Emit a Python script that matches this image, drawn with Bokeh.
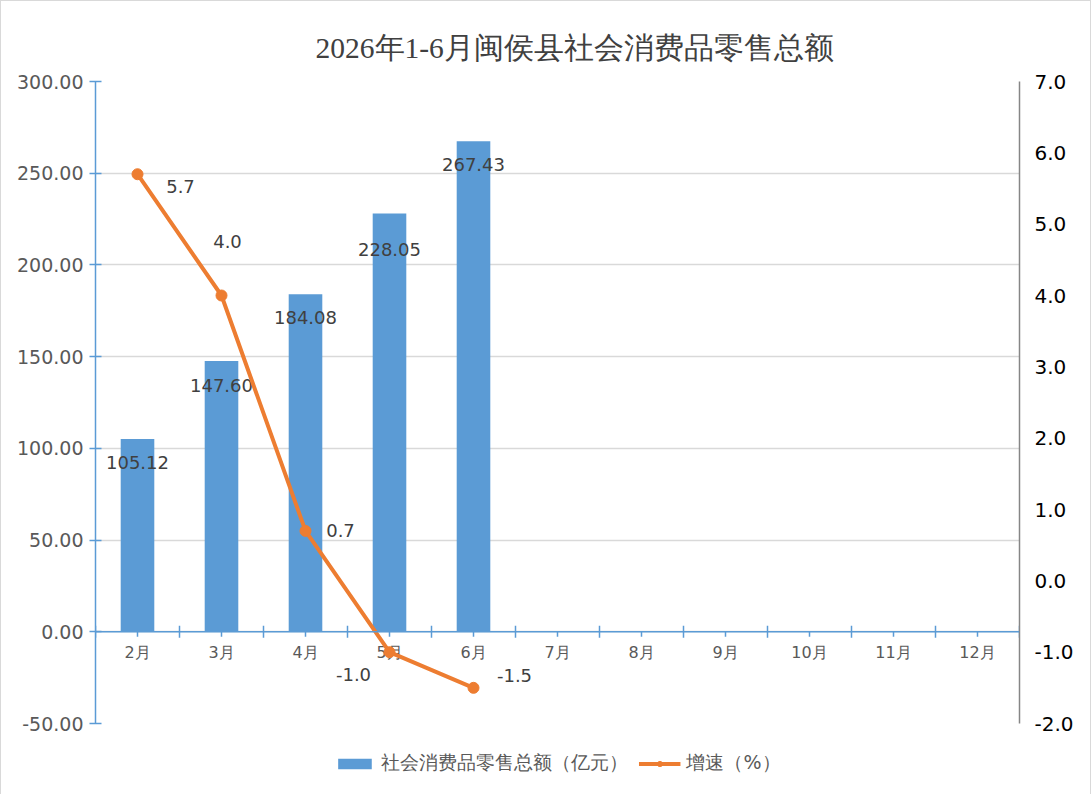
from bokeh.plotting import figure
from bokeh.models import (Range1d, LinearAxis, FixedTicker, NumeralTickFormatter,
                          Legend, LegendItem, ColumnDataSource, Grid, Span)
from bokeh.core.properties import value
from bokeh.embed import file_html
from bokeh.resources import INLINE
import math

# ---------------- data ----------------
categories = ["2月", "3月", "4月", "5月", "6月", "7月", "8月", "9月", "10月", "11月", "12月"]
sales = [105.12, 147.60, 184.08, 228.05, 267.43]          # 社会消费品零售总额（亿元）
growth = [5.7, 4.0, 0.7, -1.0, -1.5]                      # 增速（%）
sales_labels = ["105.12", "147.60", "184.08", "228.05", "267.43"]
growth_labels = ["5.7", "4.0", "0.7", "-1.0", "-1.5"]
left_ticks = [-50, 0, 50, 100, 150, 200, 250, 300]
right_ticks = [-2, -1, 0, 1, 2, 3, 4, 5, 6, 7]

title_text = "2026年1-6月闽侯县社会消费品零售总额"
bar_name = "社会消费品零售总额（亿元）"
line_name = "增速（%）"

# label offsets (styling, screen px; positive y = down)
bar_label_dy = [24, 24, 23, 36, 23]
line_label_dx = [43, 6, 35, -36, 41]
line_label_dy = [12, -54, 0, 22, -12]

BLUE = "#5B9BD5"
ORANGE = "#ED7D31"
GRID = "#D9D9D9"
TXT = "#595959"
LBL = "#404040"
FONT = "DejaVu Sans"

FRAME_W, FRAME_H = 924, 642

idx = list(range(len(categories)))
bar_x = idx[:len(sales)]
line_x = idx[:len(growth)]

p = figure(frame_width=FRAME_W, frame_height=FRAME_H, output_backend="svg", toolbar_location=None,
           x_range=Range1d(-0.5, len(categories) - 0.5),
           y_range=Range1d(left_ticks[0], left_ticks[-1]),
           x_axis_location=None, y_axis_location=None,
           min_border_left=94, min_border_right=71, min_border_top=80, min_border_bottom=69)
p.extra_y_ranges = {"r": Range1d(right_ticks[0], right_ticks[-1])}
p.center = [r for r in p.center if not isinstance(r, Grid)]
p.outline_line_color = None
p.background_fill_color = "white"
p.border_fill_color = "white"
p.styles = {"border": "1px solid #D9D9D9", "box-sizing": "border-box"}

# title
p.title.text = title_text
p.title.align = "left"
p.title.offset = 220
p.title.text_font = "Liberation Serif"
p.title.text_font_style = "normal"
p.title.text_font_size = "29.5px"
p.title.text_color = LBL
p.title.standoff = 36

# grid
p.add_layout(Grid(dimension=1, ticker=FixedTicker(ticks=left_ticks),
                  grid_line_color=GRID, grid_line_width=1.5))

# left axis
ax_l = LinearAxis(ticker=FixedTicker(ticks=left_ticks),
                  formatter=NumeralTickFormatter(format="0.00"),
                  axis_line_color=BLUE, axis_line_width=1.5,
                  major_tick_line_color=BLUE, major_tick_line_width=1.5,
                  major_tick_in=6, major_tick_out=6,
                  minor_tick_line_color=None,
                  major_label_text_font=FONT, major_label_text_font_size="19px",
                  major_label_text_color=TXT, major_label_standoff=6)
p.add_layout(ax_l, "left")

# right axis
ax_r = LinearAxis(y_range_name="r", ticker=FixedTicker(ticks=right_ticks),
                  formatter=NumeralTickFormatter(format="0.0"),
                  axis_line_color="#868686", axis_line_width=1.5,
                  major_tick_line_color=None, minor_tick_line_color=None,
                  major_tick_in=0, major_tick_out=0,
                  major_label_text_font=FONT, major_label_text_font_size="20px",
                  major_label_text_color="black", major_label_standoff=15)
p.add_layout(ax_r, "right")

# category axis drawn along y = 0
boundaries = [i - 0.5 for i in range(len(categories) + 1)]
zero_b = [0] * len(boundaries)
zero_c = [0] * len(idx)
px_per_unit = FRAME_H / (left_ticks[-1] - left_ticks[0])
tick_down = [-5 / px_per_unit] * len(idx)
p.add_layout(Span(location=0, dimension="width", line_color=BLUE, line_width=1.5))
p.scatter(x=boundaries, y=zero_b, marker="dash", angle=math.pi / 2, size=12,
          line_color=BLUE, line_width=1.5)
p.segment(x0=idx, y0=zero_c, x1=idx, y1=tick_down, line_color=BLUE, line_width=1.5)
p.text(x=idx, y=zero_c, text=categories, y_offset=21,
       text_align="center", text_baseline="middle",
       text_font=value(FONT), text_font_size="16px", text_color=TXT)

# bars
bar_src = ColumnDataSource(dict(x=bar_x, top=sales, label=sales_labels, dy=bar_label_dy))
bars = p.vbar(x="x", top="top", width=0.4, source=bar_src,
              fill_color=BLUE, line_color=None)
p.text(x="x", y="top", text="label", y_offset="dy", source=bar_src,
       text_align="center", text_baseline="middle",
       text_font=value(FONT), text_font_size="18px", text_color=LBL)

# growth line
line_src = ColumnDataSource(dict(x=line_x, y=growth, label=growth_labels,
                                 dx=line_label_dx, dy=line_label_dy))
ln = p.line(x="x", y="y", source=line_src, y_range_name="r",
            line_color=ORANGE, line_width=4, line_join="round")
sc = p.scatter(x="x", y="y", source=line_src, y_range_name="r", size=11,
               fill_color=ORANGE, line_color=ORANGE)
p.text(x="x", y="y", text="label", x_offset="dx", y_offset="dy", source=line_src,
       y_range_name="r", text_align="center", text_baseline="middle",
       text_font=value(FONT), text_font_size="18px", text_color=LBL)

# legend (below the frame); an empty legend title gives the top spacing
legend = Legend(items=[LegendItem(label=bar_name, renderers=[bars]),
                       LegendItem(label=line_name, renderers=[ln, sc])],
                orientation="horizontal", location="top_center",
                title=" ", title_text_font_size="10px", title_standoff=16,
                border_line_color=None, background_fill_alpha=0,
                label_text_font=FONT, label_text_font_size="19px",
                label_text_color=TXT, glyph_width=42, glyph_height=13,
                spacing=10, label_standoff=6, padding=5, margin=0)
p.add_layout(legend, "below")

open("out.html", "w").write(file_html(p, INLINE))
